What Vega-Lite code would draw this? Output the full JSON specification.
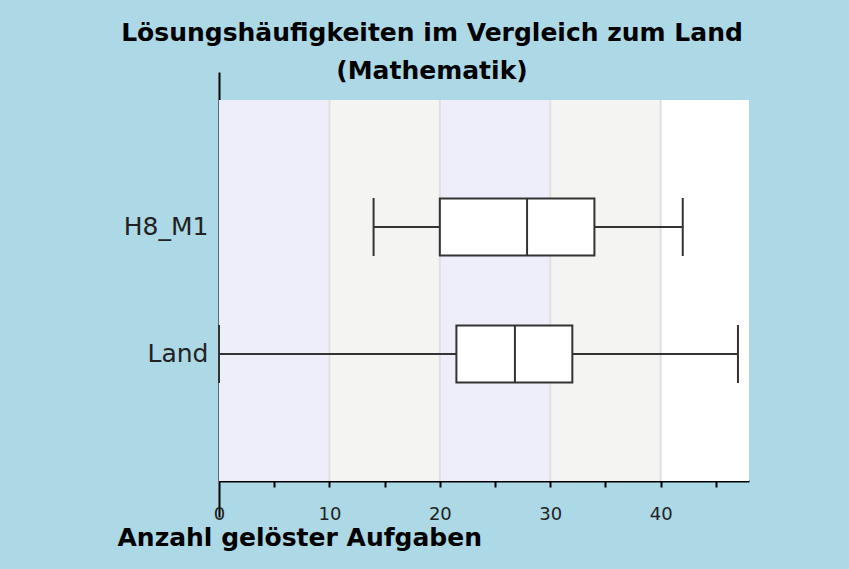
{
  "$schema": "https://vega.github.io/schema/vega-lite/v6.json",
  "width": 530,
  "height": 381,
  "autosize": {"type": "none"},
  "padding": {"left": 219, "top": 100, "right": 100, "bottom": 88},
  "background": "#add8e6",
  "title": {
    "text": ["Lösungshäufigkeiten im Vergleich zum Land", "(Mathematik)"],
    "font": "DejaVu Sans",
    "fontSize": 25,
    "fontWeight": "bold",
    "color": "#000000",
    "lineHeight": 38,
    "anchor": "middle",
    "frame": "group",
    "dx": -52,
    "offset": -13
  },
  "datasets": {
    "boxes": [
      {"gruppe": "H8_M1", "min": 14, "q1": 20, "median": 27.9, "q3": 34, "max": 42},
      {"gruppe": "Land", "min": 0, "q1": 21.5, "median": 26.8, "q3": 32, "max": 47}
    ],
    "baender": [
      {"von": 0, "bis": 10, "farbe": "lila"},
      {"von": 10, "bis": 20, "farbe": "grau"},
      {"von": 20, "bis": 30, "farbe": "lila"},
      {"von": 30, "bis": 40, "farbe": "grau"},
      {"von": 40, "bis": 48, "farbe": "weiss"}
    ]
  },
  "resolve": {"axis": {"x": "independent"}},
  "layer": [
    {
      "data": {"name": "baender"},
      "mark": {"type": "rect"},
      "encoding": {
        "x": {
          "field": "von",
          "type": "quantitative",
          "scale": {"domain": [0, 48], "nice": false, "zero": false},
          "axis": {
            "title": "Anzahl gelöster Aufgaben",
            "titleFont": "DejaVu Sans",
            "titleFontSize": 25,
            "titleFontWeight": "bold",
            "titleColor": "#000000",
            "titleAnchor": "start",
            "titleAlign": "left",
            "titleBaseline": "alphabetic",
            "titleX": -102,
            "titleY": 64,
            "values": [0, 5, 10, 15, 20, 25, 30, 35, 40, 45],
            "labelExpr": "datum.value % 10 === 0 ? datum.label : ''",
            "labelFont": "DejaVu Sans",
            "labelFontSize": 18,
            "labelColor": "#222222",
            "labelPadding": {"condition": {"test": "datum.value === 0", "value": -12}, "value": 18},
            "labelFlush": false,
            "labelOverlap": false,
            "tickColor": "#000000",
            "tickWidth": 2,
            "tickSize": {"condition": {"test": "datum.value === 0", "value": 36}, "value": 6},
            "domainColor": "#000000",
            "domainWidth": 2,
            "grid": false
          }
        },
        "x2": {"field": "bis"},
        "color": {
          "field": "farbe",
          "type": "nominal",
          "scale": {"domain": ["lila", "grau", "weiss"], "range": ["#eeeefb", "#f4f4f2", "#ffffff"]},
          "legend": null
        }
      }
    },
    {
      "data": {"name": "baender"},
      "transform": [{"filter": "datum.von > 0"}],
      "mark": {"type": "rule", "color": "#e0e0e0", "strokeWidth": 2},
      "encoding": {
        "x": {
          "field": "von",
          "type": "quantitative",
          "axis": {
            "orient": "top",
            "values": [0],
            "labels": false,
            "domain": false,
            "grid": false,
            "title": null,
            "tickSize": 28,
            "tickWidth": 2,
            "tickColor": "#000000"
          }
        }
      }
    },
    {
      "data": {"name": "boxes"},
      "encoding": {
        "y": {
          "field": "gruppe",
          "type": "nominal",
          "sort": ["H8_M1", "Land"],
          "scale": {"type": "band", "paddingInner": 0.551, "paddingOuter": 0.7755},
          "axis": {
            "title": null,
            "ticks": false,
            "labelFont": "DejaVu Sans",
            "labelFontSize": 25,
            "labelColor": "#222222",
            "labelPadding": 11,
            "domainColor": "#000000",
            "domainWidth": 2,
            "grid": false
          }
        }
      },
      "layer": [
        {
          "mark": {"type": "rule", "color": "#333333", "strokeWidth": 2},
          "encoding": {
            "x": {"field": "min", "type": "quantitative", "axis": null},
            "x2": {"field": "max"}
          }
        },
        {
          "mark": {"type": "bar", "fill": "#ffffff", "stroke": "#333333", "strokeWidth": 2},
          "encoding": {
            "x": {"field": "q1", "type": "quantitative", "axis": null},
            "x2": {"field": "q3"}
          }
        },
        {
          "mark": {"type": "tick", "color": "#333333", "opacity": 1, "thickness": 2, "size": 57},
          "encoding": {
            "x": {"field": "median", "type": "quantitative", "axis": null}
          }
        },
        {
          "mark": {"type": "tick", "color": "#333333", "opacity": 1, "thickness": 2, "size": 58},
          "encoding": {
            "x": {"field": "min", "type": "quantitative", "axis": null}
          }
        },
        {
          "mark": {"type": "tick", "color": "#333333", "opacity": 1, "thickness": 2, "size": 58},
          "encoding": {
            "x": {"field": "max", "type": "quantitative", "axis": null}
          }
        }
      ]
    }
  ],
  "config": {
    "view": {"stroke": null},
    "font": "DejaVu Sans"
  }
}
